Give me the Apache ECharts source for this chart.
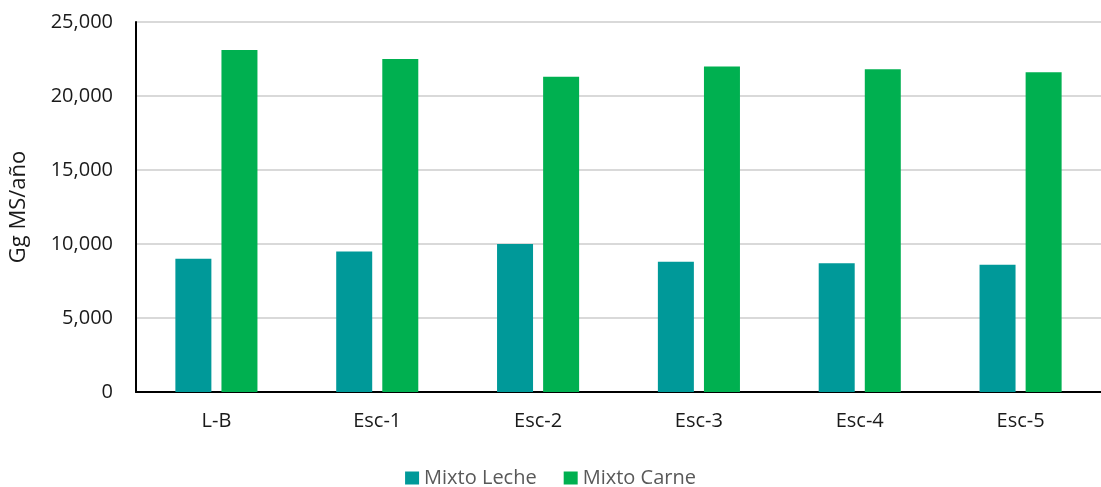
<!DOCTYPE html>
<html>
<head>
<meta charset="utf-8">
<script src="https://cdn.jsdelivr.net/npm/echarts@6/dist/echarts.min.js"></script>
<style>
  html, body { margin: 0; padding: 0; background: #fff; }
  #chart { width: 1101px; height: 487px; }
</style>
</head>
<body>
<div id="chart"></div>
<script>
// Scenarios on the x axis
const categories = ['L-B', 'Esc-1', 'Esc-2', 'Esc-3', 'Esc-4', 'Esc-5'];
// Dry matter demand (Gg MS/año) per production system
const mixtoLeche = [9000, 9500, 10000, 8800, 8700, 8600];
const mixtoCarne = [23100, 22500, 21300, 22000, 21800, 21600];
const seriesNames = ['Mixto Leche', 'Mixto Carne'];
const yAxisName = 'Gg MS/año';

const fontFamily = '"Open Sans", "Liberation Sans", sans-serif';
const chart = echarts.init(document.getElementById('chart'), null, { renderer: 'canvas' });

chart.setOption({
  animation: false,
  backgroundColor: '#ffffff',
  grid: { left: 129, right: -6, top: 22, bottom: 95 },
  legend: {
    top: 463,
    left: 'center',
    itemWidth: 14,
    itemHeight: 13,
    itemGap: 27,
    icon: 'rect',
    textStyle: { color: '#595959', fontSize: 20, fontFamily: fontFamily },
    data: seriesNames
  },
  xAxis: {
    type: 'category',
    data: categories,
    axisLine: { lineStyle: { color: '#000', width: 2 } },
    axisTick: { show: false },
    axisLabel: { color: '#1a1a1a', fontSize: 20, fontFamily: fontFamily, margin: 19 }
  },
  yAxis: {
    type: 'value',
    min: 0,
    max: 25000,
    interval: 5000,
    name: yAxisName,
    nameLocation: 'middle',
    nameGap: 106,
    nameRotate: 90,
    nameTextStyle: { color: '#1a1a1a', fontSize: 22, fontFamily: fontFamily },
    axisLine: { show: true, lineStyle: { color: '#000', width: 2 } },
    axisTick: { show: false },
    splitLine: { lineStyle: { color: '#d9d9d9', width: 2 } },
    axisLabel: {
      color: '#1a1a1a', fontSize: 20, fontFamily: fontFamily, margin: 23,
      formatter: v => v.toLocaleString('en-US')
    }
  },
  series: [
    {
      name: seriesNames[0],
      type: 'bar',
      data: mixtoLeche,
      barWidth: 36,
      barGap: '28%',
      itemStyle: { color: '#009999' }
    },
    {
      name: seriesNames[1],
      type: 'bar',
      data: mixtoCarne,
      barWidth: 36,
      barGap: '28%',
      itemStyle: { color: '#00b050' }
    }
  ]
});
</script>
</body>
</html>
